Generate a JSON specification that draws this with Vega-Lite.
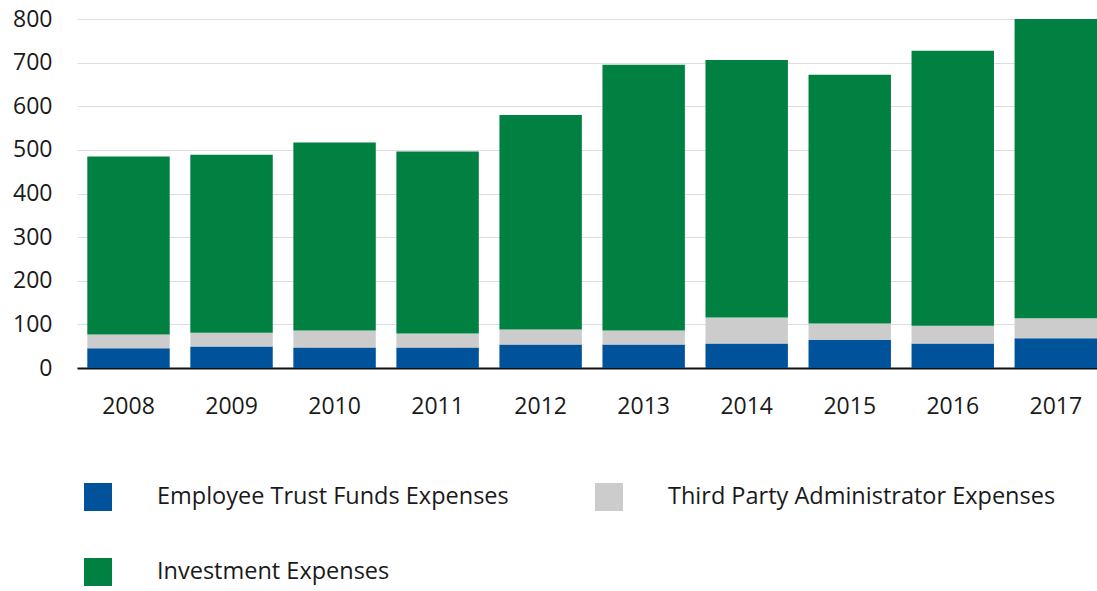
{
  "$schema": "https://vega.github.io/schema/vega-lite/v6.json",
  "width": 1020,
  "height": 349,
  "autosize": {"type": "none"},
  "padding": {"left": 77, "top": 19, "right": 0, "bottom": 223},
  "background": "white",
  "config": {
    "view": {"stroke": null},
    "font": "Open Sans",
    "axis": {"labelFont": "Open Sans", "labelColor": "#1a1a1a", "labelFontSize": 23},
    "legend": {"labelFont": "Open Sans", "labelColor": "#1a1a1a", "labelFontSize": 23.5}
  },
  "data": {
    "values": [
      {"year": "2008", "series": "Employee Trust Funds Expenses", "k": 1, "value": 45},
      {"year": "2008", "series": "Third Party Administrator Expenses", "k": 2, "value": 32},
      {"year": "2008", "series": "Investment Expenses", "k": 3, "value": 408},
      {"year": "2009", "series": "Employee Trust Funds Expenses", "k": 1, "value": 49},
      {"year": "2009", "series": "Third Party Administrator Expenses", "k": 2, "value": 32},
      {"year": "2009", "series": "Investment Expenses", "k": 3, "value": 408},
      {"year": "2010", "series": "Employee Trust Funds Expenses", "k": 1, "value": 47},
      {"year": "2010", "series": "Third Party Administrator Expenses", "k": 2, "value": 39},
      {"year": "2010", "series": "Investment Expenses", "k": 3, "value": 431},
      {"year": "2011", "series": "Employee Trust Funds Expenses", "k": 1, "value": 47},
      {"year": "2011", "series": "Third Party Administrator Expenses", "k": 2, "value": 32},
      {"year": "2011", "series": "Investment Expenses", "k": 3, "value": 417},
      {"year": "2012", "series": "Employee Trust Funds Expenses", "k": 1, "value": 54},
      {"year": "2012", "series": "Third Party Administrator Expenses", "k": 2, "value": 34},
      {"year": "2012", "series": "Investment Expenses", "k": 3, "value": 492},
      {"year": "2013", "series": "Employee Trust Funds Expenses", "k": 1, "value": 54},
      {"year": "2013", "series": "Third Party Administrator Expenses", "k": 2, "value": 32},
      {"year": "2013", "series": "Investment Expenses", "k": 3, "value": 609},
      {"year": "2014", "series": "Employee Trust Funds Expenses", "k": 1, "value": 56},
      {"year": "2014", "series": "Third Party Administrator Expenses", "k": 2, "value": 60},
      {"year": "2014", "series": "Investment Expenses", "k": 3, "value": 590},
      {"year": "2015", "series": "Employee Trust Funds Expenses", "k": 1, "value": 65},
      {"year": "2015", "series": "Third Party Administrator Expenses", "k": 2, "value": 37},
      {"year": "2015", "series": "Investment Expenses", "k": 3, "value": 570},
      {"year": "2016", "series": "Employee Trust Funds Expenses", "k": 1, "value": 56},
      {"year": "2016", "series": "Third Party Administrator Expenses", "k": 2, "value": 41},
      {"year": "2016", "series": "Investment Expenses", "k": 3, "value": 630},
      {"year": "2017", "series": "Employee Trust Funds Expenses", "k": 1, "value": 68},
      {"year": "2017", "series": "Third Party Administrator Expenses", "k": 2, "value": 46},
      {"year": "2017", "series": "Investment Expenses", "k": 3, "value": 686}
    ]
  },
  "mark": {"type": "bar"},
  "encoding": {
    "x": {
      "field": "year",
      "type": "ordinal",
      "scale": {"paddingInner": 0.2, "paddingOuter": 0.05, "align": 1},
      "axis": {
        "title": null,
        "labelAngle": 0,
        "ticks": false,
        "domain": true,
        "domainColor": "#111111",
        "domainWidth": 2,
        "labelPadding": 27,
        "grid": false
      }
    },
    "y": {
      "field": "value",
      "type": "quantitative",
      "stack": "zero",
      "scale": {"domain": [0, 800], "nice": false},
      "axis": {
        "title": null,
        "values": [0, 100, 200, 300, 400, 500, 600, 700, 800],
        "domain": false,
        "ticks": false,
        "grid": true,
        "gridColor": "#dddddd",
        "gridWidth": 1,
        "labelPadding": 25
      }
    },
    "color": {
      "field": "series",
      "type": "nominal",
      "scale": {
        "domain": ["Employee Trust Funds Expenses", "Investment Expenses", "Third Party Administrator Expenses"],
        "range": ["#00539b", "#008142", "#cccccc"]
      },
      "legend": {
        "title": null,
        "orient": "none",
        "legendX": 7,
        "legendY": 464,
        "columns": 2,
        "columnPadding": 86,
        "rowPadding": 47,
        "symbolType": "square",
        "symbolSize": 784,
        "symbolStrokeWidth": 0,
        "symbolOpacity": 1,
        "labelOffset": 45,
        "labelLimit": 0
      }
    },
    "order": {"field": "k", "type": "quantitative", "sort": "ascending"}
  }
}
